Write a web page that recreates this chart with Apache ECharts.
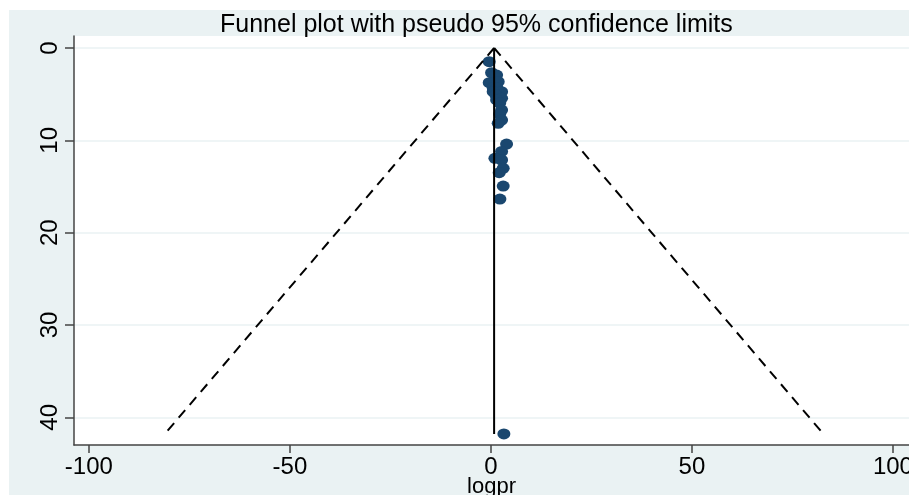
<!DOCTYPE html>
<html>
<head>
<meta charset="utf-8">
<script src="https://cdn.jsdelivr.net/npm/echarts@6/dist/echarts.min.js"></script>
<style>
  html, body { margin: 0; padding: 0; background: #fff; }
  #chart { position: absolute; left: 9px; top: 10px; width: 900px; height: 485px; }
</style>
</head>
<body>
<div id="chart"></div>
<script>
// study estimates (logpr) and their standard errors
const logpr = [-0.42, 0.17, 1.42, -0.42, 1.82, 0.57, 1.5, 2.66, 0.57, 1.24, 2.66, 1.42, 2.2,
  2.66, 2.2, 2.66, 1.82, 3.9, 2.66, 1.0, 2.66, 3.06, 2.06, 3.06, 2.24, 3.23];
const seLogpr = [1.48, 2.68, 2.93, 3.76, 3.65, 4.33, 4.3, 4.73, 4.73, 5.1, 5.45, 5.63, 5.96,
  6.72, 7.15, 7.8, 8.16, 10.4, 11.2, 11.95, 12.13, 13.03, 13.5, 14.95, 16.36, 41.8];

// pooled estimate line and pseudo 95% limits
const pooledLine = [[0.8, 0], [0.8, 41.8]];
const lowerLimit = [[0.8, 0], [-81.1, 41.8]];
const upperLimit = [[0.8, 0], [82.7, 41.8]];

const xTicks = [-100, -50, 0, 50, 100];
const yTicks = [0, 10, 20, 30, 40];

const points = logpr.map((v, i) => [v, seLogpr[i]]);
const font = 'Liberation Sans, Arial, sans-serif';

const chart = echarts.init(document.getElementById('chart'));
chart.setOption({
  backgroundColor: '#eaf2f3',
  animation: false,
  title: {
    text: 'Funnel plot with pseudo 95% confidence limits',
    left: 206,
    top: -2,
    textStyle: { fontFamily: font, fontSize: 25, fontWeight: 'normal', color: '#000' }
  },
  grid: {
    left: 65, top: 26, right: 0, bottom: 50,
    outerBoundsMode: 'none',
    containLabel: false,
    show: true, backgroundColor: '#fff', borderWidth: 0
  },
  xAxis: {
    type: 'value',
    min: -103.7,
    max: 104,
    name: 'logpr',
    nameLocation: 'middle',
    nameGap: 31,
    nameMoveOverlap: false,
    nameTextStyle: { fontFamily: font, fontSize: 22, color: '#000', verticalAlign: 'top', lineHeight: 22 },
    axisLine: { show: true, onZero: false, lineStyle: { color: '#444', width: 1.5 } },
    axisTick: { show: true, length: 8, customValues: xTicks, lineStyle: { color: '#444', width: 1.5 } },
    axisLabel: { customValues: xTicks, fontFamily: font, fontSize: 24, color: '#000', margin: 10 },
    splitLine: { show: false }
  },
  yAxis: {
    type: 'value',
    inverse: true,
    min: -1.3,
    max: 43,
    axisLine: { show: true, onZero: false, lineStyle: { color: '#444', width: 1.5 } },
    axisTick: { show: true, length: 9, customValues: yTicks, lineStyle: { color: '#444', width: 1.5 } },
    axisLabel: { customValues: yTicks, rotate: 90, fontFamily: font, fontSize: 24, color: '#000', margin: 12 },
    splitLine: { show: true, lineStyle: { color: '#eaf2f3', width: 1.5 } }
  },
  series: [
    {
      type: 'line', data: lowerLimit, symbol: 'none',
      lineStyle: { color: '#000', width: 2, type: [10, 7] }
    },
    {
      type: 'line', data: upperLimit, symbol: 'none',
      lineStyle: { color: '#000', width: 2, type: [10, 7] }
    },
    {
      type: 'line', data: pooledLine, symbol: 'none',
      lineStyle: { color: '#000', width: 2 }
    },
    {
      type: 'scatter', data: points, symbol: 'circle', symbolSize: [13, 11],
      itemStyle: { color: '#1a476f', opacity: 1 }
    }
  ]
});
</script>
</body>
</html>
